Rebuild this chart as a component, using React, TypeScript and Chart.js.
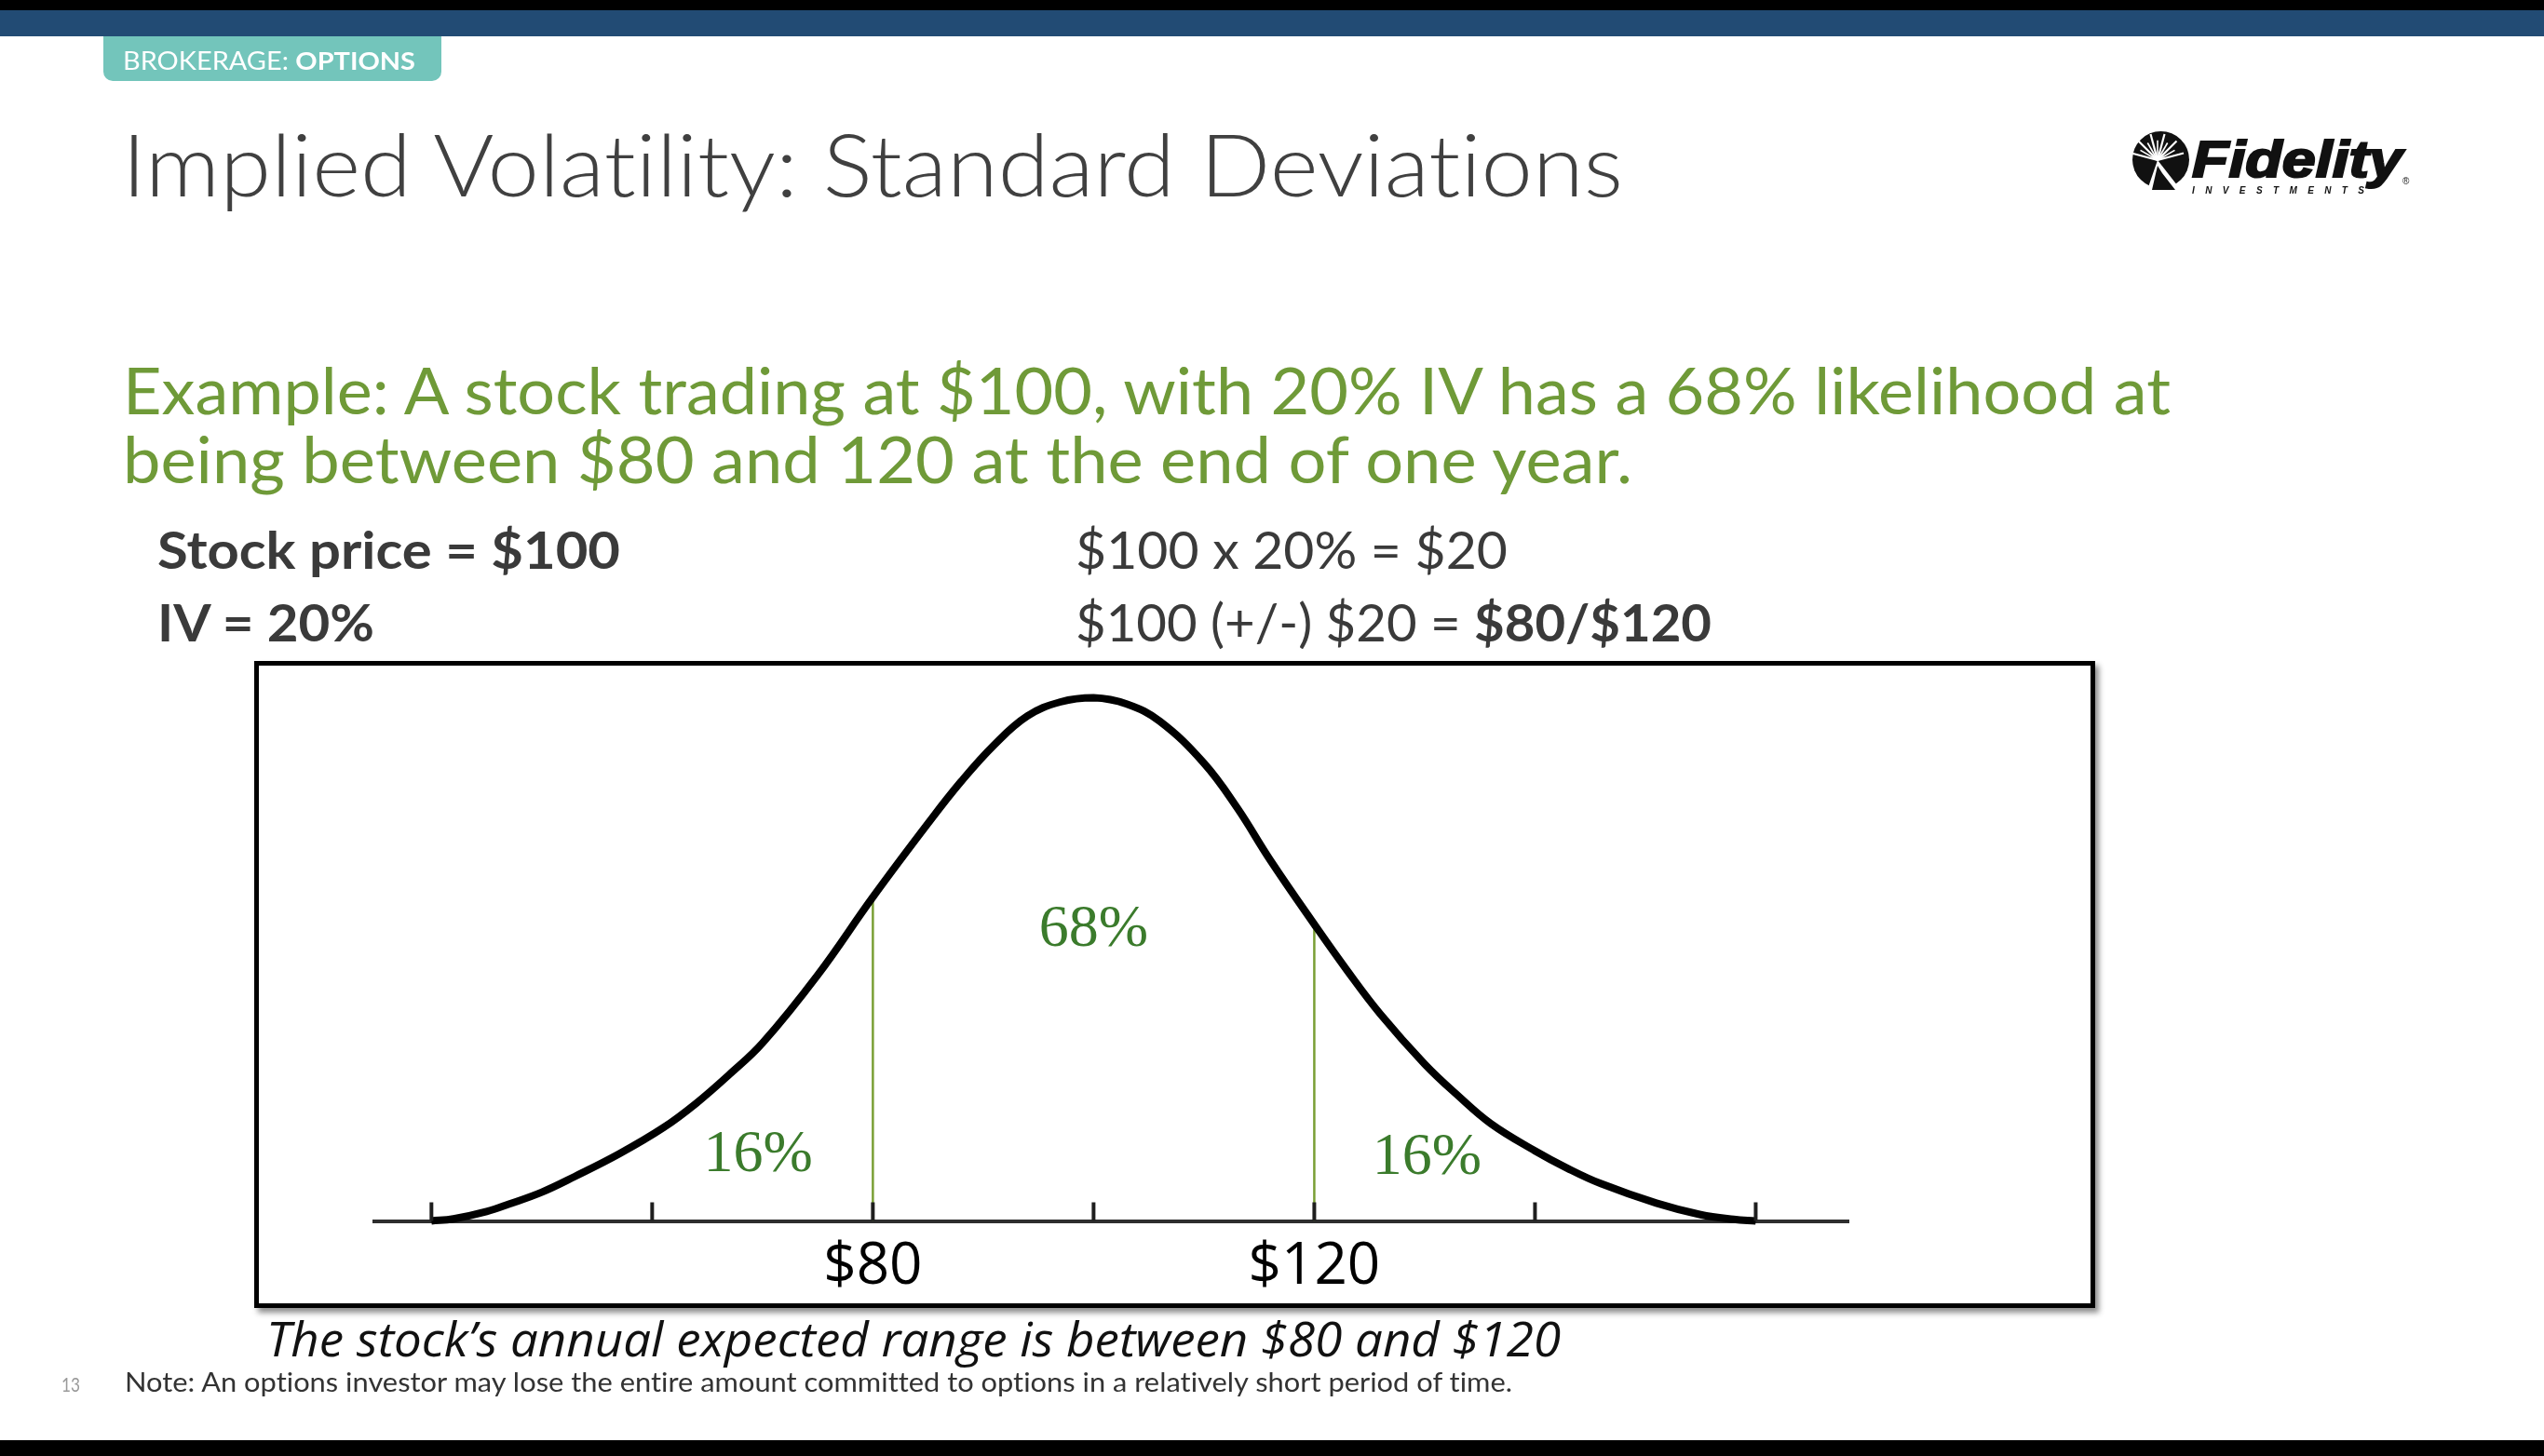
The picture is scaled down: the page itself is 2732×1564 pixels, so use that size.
import React, { useEffect, useRef } from "react";
import { Chart, registerables } from "chart.js";

Chart.register(...registerables);

// ---- data ----
const curvePrices = [40, 42, 45, 47, 50, 53, 57, 61, 64, 67, 70, 75, 80, 85, 88, 91, 94, 97, 100, 103, 106, 110, 113, 116, 120, 123, 126, 130, 133, 136, 140, 143, 146, 151, 155, 158, 160];
const curveHeights = [0.0, 0.004, 0.018, 0.032, 0.055, 0.085, 0.128, 0.178, 0.225, 0.28, 0.34, 0.47, 0.619, 0.76, 0.84, 0.91, 0.965, 0.992, 1.0, 0.988, 0.955, 0.875, 0.79, 0.69, 0.567, 0.478, 0.395, 0.3, 0.24, 0.186, 0.134, 0.1, 0.071, 0.034, 0.012, 0.003, 0.0];

const boundaryPrices = [80, 120];
const boundaryHeights = [0.619, 0.567];

const tickValues = [40, 60, 80, 100, 120, 140, 160];
const tickLabels = ["", "", "$80", "", "$120", "", ""];

const areaLabels = ["16%", "68%", "16%"];
const areaLabelPrices = [69.6, 100, 130.2];
const areaLabelHeights = [0.095, 0.526, 0.09];

const axisMin = 34.8;
const axisMax = 168.4;

const CANVAS_W = 1977;
const CANVAS_H = 695;

const annotatePlugin = {
  id: "annotate",
  afterDraw(chart: any) {
    const { ctx } = chart;
    const x = chart.scales.x;
    const y = chart.scales.y;
    const base = y.getPixelForValue(0);
    ctx.save();
    ctx.strokeStyle = "#1e1e1e";
    ctx.lineWidth = 4;
    tickValues.forEach((v) => {
      const px = x.getPixelForValue(v);
      ctx.beginPath();
      ctx.moveTo(px, base);
      ctx.lineTo(px, base - 20);
      ctx.stroke();
    });
    ctx.fillStyle = "#3b7b2c";
    ctx.font = '64px "Liberation Serif", "DejaVu Serif", serif';
    ctx.textAlign = "center";
    ctx.textBaseline = "alphabetic";
    areaLabels.forEach((t, i) => {
      ctx.fillText(t, x.getPixelForValue(areaLabelPrices[i]), y.getPixelForValue(areaLabelHeights[i]));
    });
    ctx.restore();
  },
};

function Curve() {
  const ref = useRef<HTMLCanvasElement | null>(null);
  useEffect(() => {
    if (!ref.current) return;
    const boundaryDatasets = boundaryPrices.map((p, i) => ({
      label: "b" + i,
      data: [
        { x: p, y: 0 },
        { x: p, y: boundaryHeights[i] },
      ],
      borderColor: "#7a9f35",
      borderWidth: 2.5,
      pointRadius: 0,
      order: 2,
    }));
    const chart = new Chart(ref.current, {
      type: "line",
      data: {
        datasets: [
          ...boundaryDatasets,
          {
            label: "curve",
            data: curvePrices.map((p, i) => ({ x: p, y: curveHeights[i] })),
            borderColor: "#000000",
            borderWidth: 8,
            pointRadius: 0,
            tension: 0.4,
            clip: false,
            order: 1,
          } as any,
        ],
      },
      options: {
        animation: false,
        responsive: false,
        devicePixelRatio: 1,
        layout: { padding: { left: 128.7, right: 265, top: 39.5, bottom: 0 } },
        plugins: { legend: { display: false }, tooltip: { enabled: false } },
        events: [],
        scales: {
          x: {
            type: "linear",
            min: axisMin,
            max: axisMax,
            afterBuildTicks: (scale: any) => {
              scale.ticks = tickValues.map((v) => ({ value: v }));
            },
            afterFit: (scale: any) => {
              scale.height = 93.5;
            },
            grid: { display: false },
            border: { display: true, color: "#2e2e2e", width: 4 },
            ticks: {
              autoSkip: false,
              maxRotation: 0,
              padding: 5,
              color: "#000",
              font: { family: '"Open Sans", "Noto Sans", sans-serif', size: 62 },
              callback: (v: any) => {
                const i = tickValues.indexOf(Number(v));
                return i >= 0 ? tickLabels[i] : "";
              },
            },
          },
          y: { type: "linear", min: 0, max: 1, display: false },
        },
      },
      plugins: [annotatePlugin],
    });
    return () => chart.destroy();
  }, []);
  return (
    <canvas
      ref={ref}
      width={CANVAS_W}
      height={CANVAS_H}
      style={{ position: "absolute", left: 273, top: 710, width: CANVAS_W, height: CANVAS_H }}
    />
  );
}

function Logo() {
  const cx = 2320.5;
  const cy = 171.5;
  const r = 30.5;
  const ox = 2317;
  const oy = 172;
  const rays: React.ReactNode[] = [];
  const angles = [165, 150, 135, 120, 105, 90, 75, 60, 45, 30, 15];
  angles.forEach((a, i) => {
    const rad = (a * Math.PI) / 180;
    const len = i % 2 === 0 ? r * 0.95 : r * 0.7;
    rays.push(
      <line
        key={a}
        x1={ox}
        y1={oy}
        x2={ox + Math.cos(rad) * len}
        y2={oy - Math.sin(rad) * len}
        stroke="#fff"
        strokeWidth={i % 2 === 0 ? 2.2 : 1.6}
      />
    );
  });
  return (
    <g>
      <circle cx={cx} cy={cy} r={r} fill="#111" />
      <polygon points={`2306,204 ${ox},${oy} 2342,204`} fill="#fff" />
      <polygon points={`2311,204 ${ox},${oy + 6} 2322,186 2336,204`} fill="#111" />
      {rays}
      <text
        x={2354}
        y={190}
        fontFamily='"Liberation Sans", Arial, sans-serif'
        fontWeight={700}
        fontStyle="italic"
        fontSize={56}
        fill="#111"
        stroke="#111"
        strokeWidth={2.2}
        textLength={226}
        lengthAdjust="spacingAndGlyphs"
      >
        Fidelity
      </text>
      <text x={2580} y={198} fontFamily='"Liberation Sans", Arial, sans-serif' fontSize={10} fill="#111">
        ®
      </text>
      <text
        x={2354}
        y={208}
        fontFamily='"Liberation Sans", Arial, sans-serif'
        fontWeight={700}
        fontStyle="italic"
        fontSize={10}
        fill="#111"
        textLength={185}
        lengthAdjust="spacing"
      >
        INVESTMENTS
      </text>
    </g>
  );
}

export default function App() {
  const lato = 'Lato, "Open Sans", sans-serif';
  return (
    <div
      style={{
        position: "absolute",
        left: 0,
        top: 0,
        width: 2732,
        height: 1564,
        background: "#fff",
        overflow: "hidden",
      }}
    >
      <div style={{ position: "absolute", left: 0, top: 0, width: 2732, height: 11, background: "#000" }} />
      <div style={{ position: "absolute", left: 0, top: 11, width: 2732, height: 28, background: "#224b74" }} />
      <div
        style={{
          position: "absolute",
          left: 111,
          top: 39,
          width: 363,
          height: 48,
          background: "#73c5bb",
          borderBottomLeftRadius: 10,
          borderBottomRightRadius: 10,
        }}
      />
      <Curve />
      <div
        style={{
          position: "absolute",
          left: 273,
          top: 710,
          width: 1977,
          height: 695,
          border: "5px solid #000",
          boxSizing: "border-box",
          boxShadow: "4px 5px 6px rgba(0,0,0,0.45)",
          pointerEvents: "none",
        }}
      />
      <div style={{ position: "absolute", left: 0, top: 1547, width: 2732, height: 17, background: "#000" }} />
      <svg
        width={2732}
        height={1564}
        style={{ position: "absolute", left: 0, top: 0, pointerEvents: "none", fontVariantLigatures: "none" }}
      >
        <text x={132} y={75} fontFamily={lato} fontSize={27} fill="#fff" textLength={314} lengthAdjust="spacingAndGlyphs">
          BROKERAGE: <tspan fontWeight={700}>OPTIONS</tspan>
        </text>
        <text x={131} y={211} fontFamily={lato} fontWeight={300} fontSize={92} fill="#404040" textLength={1612} lengthAdjust="spacingAndGlyphs">
          Implied Volatility: Standard Deviations
        </text>
        <text x={132} y={445} fontFamily={lato} fontSize={70} fill="#6f9a38" textLength={2199} lengthAdjust="spacingAndGlyphs">
          Example: A stock trading at $100, with 20% IV has a 68% likelihood at
        </text>
        <text x={132} y={519} fontFamily={lato} fontSize={70} fill="#6f9a38" textLength={1621} lengthAdjust="spacingAndGlyphs">
          being between $80 and 120 at the end of one year.
        </text>
        <text x={169} y={611} fontFamily={lato} fontWeight={700} fontSize={56} fill="#3a3a3a" textLength={497} lengthAdjust="spacingAndGlyphs">
          Stock price = $100
        </text>
        <text x={169} y={689} fontFamily={lato} fontWeight={700} fontSize={56} fill="#3a3a3a" textLength={233} lengthAdjust="spacingAndGlyphs">
          IV = 20%
        </text>
        <text x={1155} y={611} fontFamily={lato} fontSize={56} fill="#3a3a3a" textLength={464} lengthAdjust="spacingAndGlyphs">
          $100 x 20% = $20
        </text>
        <text x={1155} y={689} fontFamily={lato} fontSize={56} fill="#3a3a3a" textLength={683} lengthAdjust="spacingAndGlyphs">
          $100 (+/-) $20 = <tspan fontWeight={700}>$80/$120</tspan>
        </text>
        <text
          x={286}
          y={1457}
          fontFamily='"Open Sans", "Noto Sans", sans-serif'
          fontStyle="italic"
          fontSize={52}
          fill="#111"
          textLength={1390}
          lengthAdjust="spacingAndGlyphs"
        >
          The stock’s annual expected range is between $80 and $120
        </text>
        <text x={66} y={1495} fontFamily={lato} fontSize={22} fill="#9a9a9a" textLength={20} lengthAdjust="spacingAndGlyphs">
          13
        </text>
        <text x={134} y={1495} fontFamily={lato} fontSize={28} fill="#333" textLength={1490} lengthAdjust="spacingAndGlyphs">
          Note: An options investor may lose the entire amount committed to options in a relatively short period of time.
        </text>
        <Logo />
      </svg>
    </div>
  );
}
